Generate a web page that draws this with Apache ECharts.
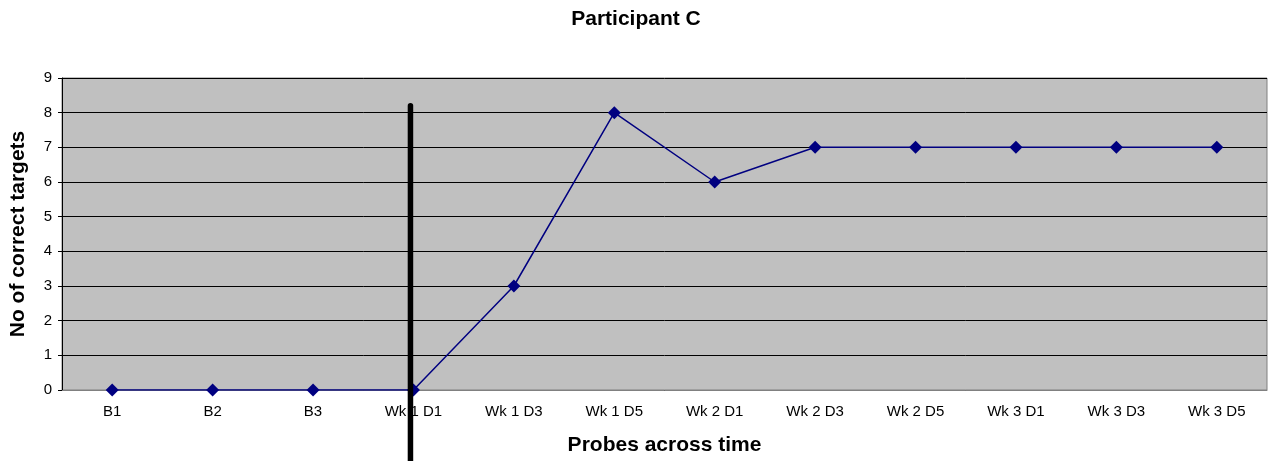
<!DOCTYPE html>
<html>
<head>
<meta charset="utf-8">
<script src="https://cdn.jsdelivr.net/npm/echarts@6/dist/echarts.min.js"></script>
<style>html,body{margin:0;padding:0;background:#fff}#c{width:1272px;height:461px}</style>
</head>
<body>
<div id="c"></div>
<script>
var categories = ['B1','B2','B3','Wk 1 D1','Wk 1 D3','Wk 1 D5','Wk 2 D1','Wk 2 D3','Wk 2 D5','Wk 3 D1','Wk 3 D3','Wk 3 D5'];
var correctTargets = [0,0,0,0,3,8,6,7,7,7,7,7];
var phaseChangeCategory = 'Wk 1 D1';
var phaseLineTopValue = 8.2;
var titleText = 'Participant C';
var xName = 'Probes across time';
var yName = 'No of correct targets';

var chart = echarts.init(document.getElementById('c'), null, {renderer:'canvas'});
var font = 'Liberation Sans, Arial, sans-serif';
chart.setOption({
  animation:false,
  backgroundColor:'#ffffff',
  title:{text:titleText,left:'center',top:4,textStyle:{fontFamily:font,fontSize:21,fontWeight:'bold',color:'#000'}},
  grid:{left:60,right:5,top:78,bottom:71,show:true,backgroundColor:'#c0c0c0',borderColor:'#808080',borderWidth:1},
  xAxis:{type:'category',data:categories,boundaryGap:true,
    name:xName,nameLocation:'middle',nameGap:45,
    nameTextStyle:{fontFamily:font,fontSize:21,fontWeight:'bold',color:'#000'},
    axisLine:{lineStyle:{color:'#808080',width:1}},axisTick:{show:false},
    axisLabel:{fontFamily:font,fontSize:15,color:'#000',margin:14,interval:0}},
  yAxis:{type:'value',min:0,max:9,interval:1,
    name:yName,nameLocation:'middle',nameGap:33,
    nameTextStyle:{fontFamily:font,fontSize:21,fontWeight:'bold',color:'#000'},
    axisLine:{show:true,lineStyle:{color:'#000',width:1}},
    axisTick:{show:true,length:4,lineStyle:{color:'#000'}},
    axisLabel:{fontFamily:font,fontSize:15,color:'#000',margin:10},
    splitLine:{show:true,lineStyle:{color:'#000',width:1}}},
  series:[{type:'line',data:correctTargets,symbol:'diamond',symbolSize:13,
    lineStyle:{color:'#000080',width:1.5},itemStyle:{color:'#000080'}}]
});
var px = chart.convertToPixel({xAxisIndex:0},phaseChangeCategory) - 3;
var pyTop = chart.convertToPixel({yAxisIndex:0},phaseLineTopValue);
chart.setOption({graphic:[{type:'line',shape:{x1:px,y1:pyTop,x2:px,y2:461},style:{stroke:'#000',lineWidth:5.5,lineCap:'round'},z:100}]});
</script>
</body>
</html>
